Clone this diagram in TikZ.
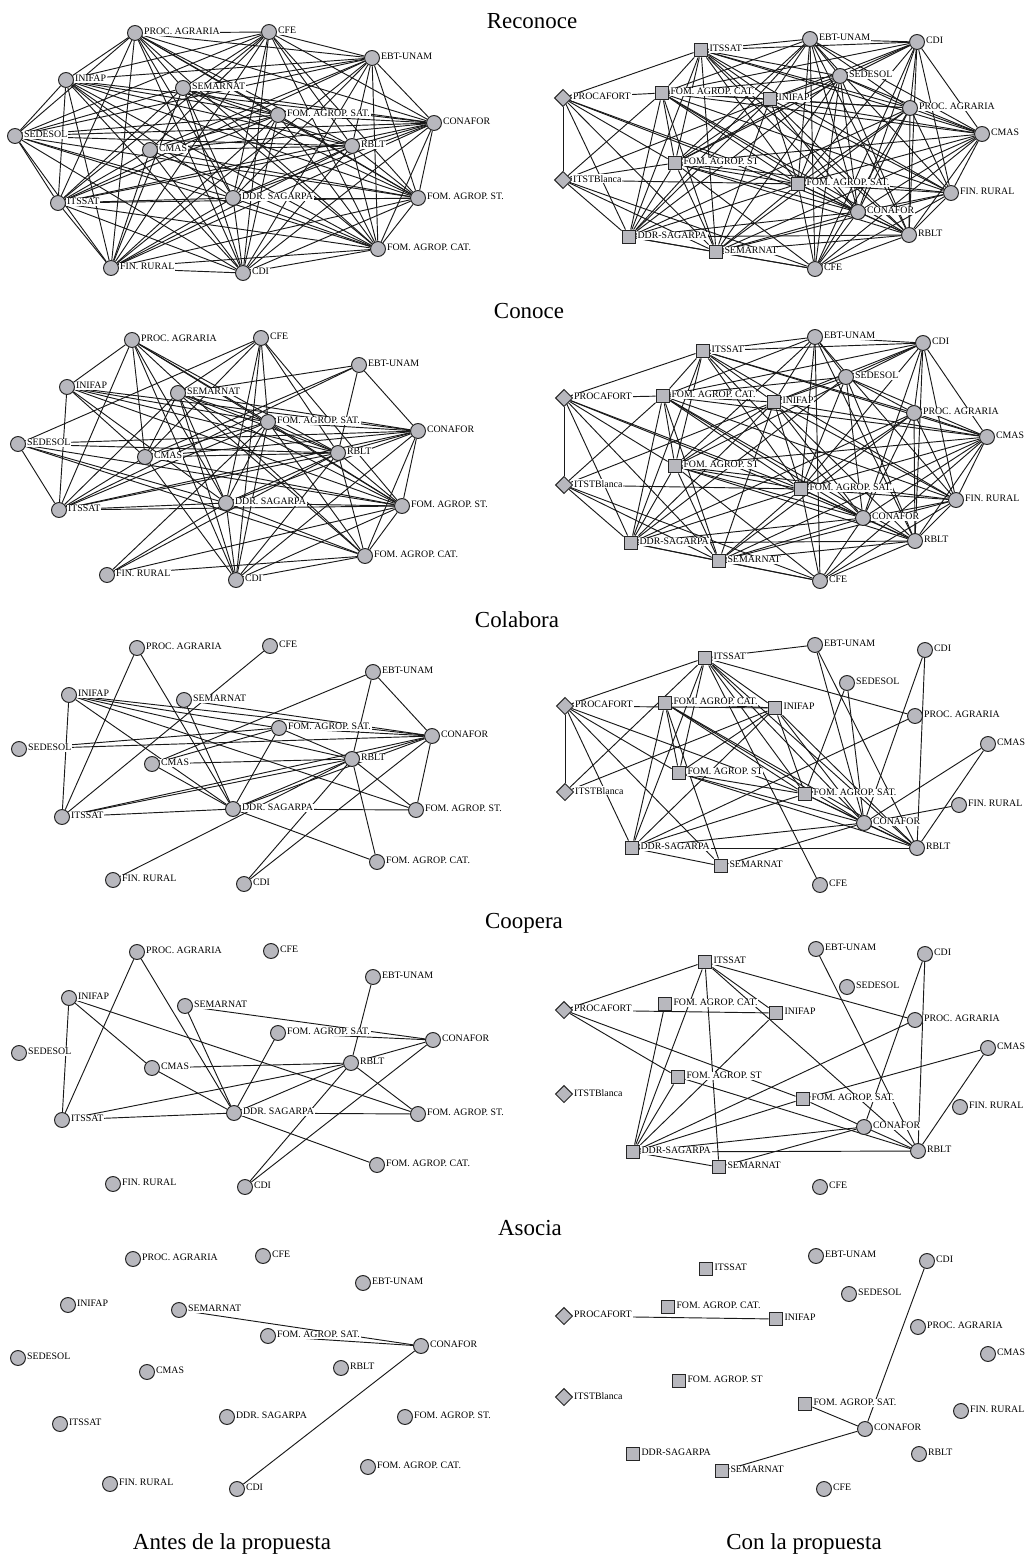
\documentclass[tikz,border=0pt]{standalone}
\usepackage{fontspec}
\setmainfont{Liberation Serif}
\usetikzlibrary{shapes.geometric}
\pgfdeclarelayer{back}
\pgfdeclarelayer{bg}
\pgfsetlayers{back,bg,main}
\definecolor{ngray}{RGB}{184,184,190}
\tikzset{
  edge/.style={draw=black!90,line width=0.7pt},
  nbase/.style={draw=black!85,line width=0.75pt,fill=ngray,inner sep=0pt,label distance=0.3pt},
  cnode/.style={nbase,circle,minimum size=11.2pt},
  snode/.style={nbase,rectangle,minimum size=10.4pt},
  dnode/.style={nbase,diamond,minimum size=13pt},
  lab/.style={font=\fontsize{7.4}{8}\selectfont,fill=white,inner sep=0.6pt,yshift=1pt},
  ttl/.style={font=\fontsize{17.2}{20}\selectfont,anchor=base,inner sep=0pt},
}
\newcommand\cn[4]{\node[cnode,label={[lab]right:#4}] (#1) at (#2,#3) {};}
\newcommand\sn[4]{\node[snode,label={[lab]right:#4}] (#1) at (#2,#3) {};}
\newcommand\dn[4]{\node[dnode,label={[lab]right:#4}] (#1) at (#2,#3) {};}
\newcommand\edgelist[2]{\foreach \u/\v in {#2}{\draw[edge] (#1\u) -- (#1\v);}}
\makeatletter
\newcommand\alledges[3]{%
  \foreach \u [count=\iu] in {#2}{%
    \foreach \v [count=\iv] in {#2}{%
      \ifnum\iu<\iv\relax
        \edef\tmpx{\noexpand\in@{,\u/\v,}{,#3,}}\tmpx
        \ifin@\else
          \edef\tmpx{\noexpand\in@{,\v/\u,}{,#3,}}\tmpx
          \ifin@\else\draw[edge] (#1\u) -- (#1\v);\fi
        \fi
      \fi}}}
\makeatother
\begin{document}
\begin{tikzpicture}[x=0.75pt,y=-0.75pt]
\useasboundingbox (0,0) rectangle (1025,1555);
\begin{pgfonlayer}{back}
\fill[white] (0,0) rectangle (1025,1555);
\end{pgfonlayer}

% titles
\node[ttl] (t1) at (532,29) {Reconoce};
\node[ttl] (t2) at (529,318) {Conoce};
\node[ttl] (t3) at (517,627) {Colabora};
\node[ttl] (t4) at (524,928) {Coopera};
\node[ttl] (t5) at (530,1235) {Asocia};
\node[ttl] (f1) at (232,1549) {Antes de la propuesta};
\node[ttl] (f2) at (804,1549) {Con la propuesta};

% ---------- LEFT 1 Reconoce
\cn{L1PA}{135}{33}{PROC. AGRARIA}
\cn{L1CFE}{269}{32}{CFE}
\cn{L1EBT}{372}{58}{EBT-UNAM}
\cn{L1INI}{66}{80}{INIFAP}
\cn{L1SEM}{183}{88}{SEMARNAT}
\cn{L1FSAT}{278}{115}{FOM. AGROP. SAT.}
\cn{L1CON}{434}{123}{CONAFOR}
\cn{L1SED}{15}{136}{SEDESOL}
\cn{L1CMAS}{150}{150}{CMAS}
\cn{L1RBLT}{352}{146}{RBLT}
\cn{L1ITS}{58}{203}{ITSSAT}
\cn{L1DDR}{233}{198}{DDR. SAGARPA}
\cn{L1FST}{418}{198}{FOM. AGROP. ST.}
\cn{L1FCAT}{378}{249}{FOM. AGROP. CAT.}
\cn{L1FIN}{111}{268}{FIN. RURAL}
\cn{L1CDI}{243}{273}{CDI}
% ---------- LEFT 2 Conoce
\cn{L2PA}{132}{340}{PROC. AGRARIA}
\cn{L2CFE}{261}{338}{CFE}
\cn{L2EBT}{359}{365}{EBT-UNAM}
\cn{L2INI}{67}{387}{INIFAP}
\cn{L2SEM}{178}{393}{SEMARNAT}
\cn{L2FSAT}{268}{422}{FOM. AGROP. SAT.}
\cn{L2CON}{418}{431}{CONAFOR}
\cn{L2SED}{18}{444}{SEDESOL}
\cn{L2CMAS}{145}{457}{CMAS}
\cn{L2RBLT}{338}{453}{RBLT}
\cn{L2ITS}{59}{510}{ITSSAT}
\cn{L2DDR}{226}{503}{DDR. SAGARPA}
\cn{L2FST}{402}{506}{FOM. AGROP. ST.}
\cn{L2FCAT}{365}{556}{FOM. AGROP. CAT.}
\cn{L2FIN}{107}{575}{FIN. RURAL}
\cn{L2CDI}{236}{580}{CDI}
% ---------- LEFT 3 Colabora
\cn{L3PA}{137}{648}{PROC. AGRARIA}
\cn{L3CFE}{270}{646}{CFE}
\cn{L3EBT}{373}{672}{EBT-UNAM}
\cn{L3INI}{69}{695}{INIFAP}
\cn{L3SEM}{184}{700}{SEMARNAT}
\cn{L3FSAT}{279}{728}{FOM. AGROP. SAT.}
\cn{L3CON}{432}{736}{CONAFOR}
\cn{L3SED}{19}{749}{SEDESOL}
\cn{L3CMAS}{152}{764}{CMAS}
\cn{L3RBLT}{352}{759}{RBLT}
\cn{L3ITS}{62}{817}{ITSSAT}
\cn{L3DDR}{233}{809}{DDR. SAGARPA}
\cn{L3FST}{416}{810}{FOM. AGROP. ST.}
\cn{L3FCAT}{377}{862}{FOM. AGROP. CAT.}
\cn{L3FIN}{113}{880}{FIN. RURAL}
\cn{L3CDI}{244}{884}{CDI}
% ---------- LEFT 4 Coopera
\cn{L4PA}{137}{952}{PROC. AGRARIA}
\cn{L4CFE}{271}{951}{CFE}
\cn{L4EBT}{373}{977}{EBT-UNAM}
\cn{L4INI}{69}{998}{INIFAP}
\cn{L4SEM}{185}{1006}{SEMARNAT}
\cn{L4FSAT}{278}{1033}{FOM. AGROP. SAT.}
\cn{L4CON}{433}{1040}{CONAFOR}
\cn{L4SED}{19}{1053}{SEDESOL}
\cn{L4CMAS}{152}{1068}{CMAS}
\cn{L4RBLT}{351}{1063}{RBLT}
\cn{L4ITS}{62}{1120}{ITSSAT}
\cn{L4DDR}{234}{1113}{DDR. SAGARPA}
\cn{L4FST}{418}{1114}{FOM. AGROP. ST.}
\cn{L4FCAT}{377}{1165}{FOM. AGROP. CAT.}
\cn{L4FIN}{113}{1184}{FIN. RURAL}
\cn{L4CDI}{245}{1187}{CDI}
% ---------- LEFT 5 Asocia
\cn{L5PA}{133}{1259}{PROC. AGRARIA}
\cn{L5CFE}{263}{1256}{CFE}
\cn{L5EBT}{363}{1283}{EBT-UNAM}
\cn{L5INI}{68}{1305}{INIFAP}
\cn{L5SEM}{179}{1310}{SEMARNAT}
\cn{L5FSAT}{268}{1336}{FOM. AGROP. SAT.}
\cn{L5CON}{421}{1346}{CONAFOR}
\cn{L5SED}{18}{1358}{SEDESOL}
\cn{L5CMAS}{147}{1372}{CMAS}
\cn{L5RBLT}{341}{1368}{RBLT}
\cn{L5ITS}{60}{1424}{ITSSAT}
\cn{L5DDR}{227}{1417}{DDR. SAGARPA}
\cn{L5FST}{405}{1417}{FOM. AGROP. ST.}
\cn{L5FCAT}{368}{1467}{FOM. AGROP. CAT.}
\cn{L5FIN}{110}{1484}{FIN. RURAL}
\cn{L5CDI}{237}{1489}{CDI}

% ---------- RIGHT 1 Reconoce
\cn{R1EBT}{810}{39}{EBT-UNAM}
\cn{R1CDI}{917}{42}{CDI}
\sn{R1ITS}{701}{50}{ITSSAT}
\cn{R1SED}{840}{76}{SEDESOL}
\dn{R1PF}{563}{98}{PROCAFORT}
\sn{R1FCAT}{662}{93}{FOM. AGROP. CAT.}
\sn{R1INI}{770}{99}{INIFAP}
\cn{R1PA}{910}{108}{PROC. AGRARIA}
\cn{R1CMAS}{982}{134}{CMAS}
\sn{R1FST}{675}{163}{FOM. AGROP. ST}
\dn{R1IB}{563}{180}{ITSTBlanca}
\sn{R1FSAT}{798}{184}{FOM. AGROP. SAT.}
\cn{R1FIN}{951}{193}{FIN. RURAL}
\cn{R1CON}{858}{212}{CONAFOR}
\sn{R1DDR}{629}{237}{DDR-SAGARPA}
\cn{R1RBLT}{909}{235}{RBLT}
\sn{R1SEM}{716}{252}{SEMARNAT}
\cn{R1CFE}{815}{269}{CFE}
% ---------- RIGHT 2 Conoce
\cn{R2EBT}{815}{337}{EBT-UNAM}
\cn{R2CDI}{923}{343}{CDI}
\sn{R2ITS}{703}{351}{ITSSAT}
\cn{R2SED}{846}{377}{SEDESOL}
\dn{R2PF}{564}{398}{PROCAFORT}
\sn{R2FCAT}{663}{396}{FOM. AGROP. CAT.}
\sn{R2INI}{774}{402}{INIFAP}
\cn{R2PA}{914}{413}{PROC. AGRARIA}
\cn{R2CMAS}{987}{437}{CMAS}
\sn{R2FST}{675}{466}{FOM. AGROP. ST}
\dn{R2IB}{564}{485}{ITSTBlanca}
\sn{R2FSAT}{801}{489}{FOM. AGROP. SAT.}
\cn{R2FIN}{956}{500}{FIN. RURAL}
\cn{R2CON}{863}{518}{CONAFOR}
\sn{R2DDR}{631}{543}{DDR-SAGARPA}
\cn{R2RBLT}{915}{541}{RBLT}
\sn{R2SEM}{719}{561}{SEMARNAT}
\cn{R2CFE}{820}{581}{CFE}
% ---------- RIGHT 3 Colabora
\cn{R3EBT}{815}{645}{EBT-UNAM}
\cn{R3CDI}{925}{650}{CDI}
\sn{R3ITS}{705}{658}{ITSSAT}
\cn{R3SED}{847}{683}{SEDESOL}
\dn{R3PF}{565}{706}{PROCAFORT}
\sn{R3FCAT}{665}{703}{FOM. AGROP. CAT.}
\sn{R3INI}{775}{708}{INIFAP}
\cn{R3PA}{915}{716}{PROC. AGRARIA}
\cn{R3CMAS}{988}{744}{CMAS}
\sn{R3FST}{679}{773}{FOM. AGROP. ST}
\dn{R3IB}{565}{792}{ITSTBlanca}
\sn{R3FSAT}{805}{794}{FOM. AGROP. SAT.}
\cn{R3FIN}{959}{805}{FIN. RURAL}
\cn{R3CON}{864}{823}{CONAFOR}
\sn{R3DDR}{632}{848}{DDR-SAGARPA}
\cn{R3RBLT}{917}{848}{RBLT}
\sn{R3SEM}{721}{866}{SEMARNAT}
\cn{R3CFE}{820}{885}{CFE}
% ---------- RIGHT 4 Coopera
\cn{R4EBT}{816}{949}{EBT-UNAM}
\cn{R4CDI}{925}{954}{CDI}
\sn{R4ITS}{705}{962}{ITSSAT}
\cn{R4SED}{847}{987}{SEDESOL}
\dn{R4PF}{564}{1010}{PROCAFORT}
\sn{R4FCAT}{665}{1004}{FOM. AGROP. CAT.}
\sn{R4INI}{776}{1013}{INIFAP}
\cn{R4PA}{915}{1020}{PROC. AGRARIA}
\cn{R4CMAS}{988}{1048}{CMAS}
\sn{R4FST}{678}{1077}{FOM. AGROP. ST}
\dn{R4IB}{564}{1094}{ITSTBlanca}
\sn{R4FSAT}{803}{1099}{FOM. AGROP. SAT.}
\cn{R4FIN}{960}{1107}{FIN. RURAL}
\cn{R4CON}{864}{1127}{CONAFOR}
\sn{R4DDR}{633}{1152}{DDR-SAGARPA}
\cn{R4RBLT}{918}{1151}{RBLT}
\sn{R4SEM}{719}{1167}{SEMARNAT}
\cn{R4CFE}{820}{1187}{CFE}
% ---------- RIGHT 5 Asocia
\cn{R5EBT}{816}{1256}{EBT-UNAM}
\cn{R5CDI}{927}{1261}{CDI}
\sn{R5ITS}{706}{1269}{ITSSAT}
\cn{R5SED}{849}{1294}{SEDESOL}
\dn{R5PF}{564}{1316}{PROCAFORT}
\sn{R5FCAT}{668}{1307}{FOM. AGROP. CAT.}
\sn{R5INI}{776}{1319}{INIFAP}
\cn{R5PA}{918}{1327}{PROC. AGRARIA}
\cn{R5CMAS}{988}{1354}{CMAS}
\sn{R5FST}{679}{1381}{FOM. AGROP. ST}
\dn{R5IB}{564}{1397}{ITSTBlanca}
\sn{R5FSAT}{805}{1404}{FOM. AGROP. SAT.}
\cn{R5FIN}{961}{1411}{FIN. RURAL}
\cn{R5CON}{865}{1429}{CONAFOR}
\sn{R5DDR}{633}{1454}{DDR-SAGARPA}
\cn{R5RBLT}{919}{1454}{RBLT}
\sn{R5SEM}{722}{1471}{SEMARNAT}
\cn{R5CFE}{824}{1489}{CFE}

\begin{pgfonlayer}{bg}
% Left Reconoce: almost complete
\alledges{L1}{PA,CFE,EBT,INI,SEM,FSAT,CON,SED,CMAS,RBLT,ITS,DDR,FST,FCAT,FIN,CDI}{INI/SEM,SEM/CMAS,SED/CMAS,FSAT/RBLT,EBT/FSAT,CFE/FSAT,DDR/CMAS,PA/CMAS}
% Left Conoce
\edgelist{L2}{PA/INI,PA/ITS,PA/CMAS,PA/DDR,PA/CDI,PA/FSAT,PA/RBLT,PA/FST,PA/FCAT,
CFE/SEM,CFE/SED,CFE/DDR,CFE/CDI,CFE/RBLT,CFE/FST,CFE/FSAT,CFE/CMAS,
EBT/SEM,EBT/CON,EBT/RBLT,EBT/CMAS,EBT/ITS,
INI/ITS,INI/CMAS,INI/FSAT,INI/CON,INI/RBLT,INI/FST,INI/DDR,
SEM/ITS,SEM/CMAS,SEM/DDR,SEM/CDI,SEM/FSAT,SEM/RBLT,SEM/FST,SEM/FCAT,SEM/CON,
FSAT/CON,FSAT/ITS,FSAT/CMAS,FSAT/DDR,FSAT/CDI,FSAT/FST,FSAT/FCAT,FSAT/FIN,FSAT/RBLT,
CON/SED,CON/CMAS,CON/RBLT,CON/ITS,CON/DDR,CON/FST,CON/FCAT,CON/CDI,
SED/ITS,SED/RBLT,SED/FST,SED/FCAT,SED/DDR,
CMAS/RBLT,CMAS/ITS,CMAS/FST,CMAS/CDI,
RBLT/ITS,RBLT/DDR,RBLT/FST,RBLT/FCAT,RBLT/FIN,RBLT/CDI,
ITS/DDR,ITS/FST,DDR/FST,DDR/FCAT,DDR/CDI,DDR/FIN,
FST/FCAT,FST/CDI,FST/FIN,FCAT/FIN,FCAT/CDI}
% Left Colabora
\edgelist{L3}{PA/ITS,PA/DDR,CFE/ITS,INI/ITS,INI/DDR,INI/FSAT,INI/CON,INI/RBLT,INI/FST,
SEM/DDR,SEM/CON,EBT/CMAS,EBT/RBLT,EBT/CON,SED/FSAT,SED/CON,CMAS/RBLT,CMAS/DDR,CMAS/FSAT,
ITS/RBLT,ITS/CON,ITS/DDR,DDR/FSAT,DDR/RBLT,DDR/CON,DDR/FST,DDR/FCAT,FIN/RBLT,
CDI/RBLT,CDI/CON,RBLT/CON,RBLT/FST,RBLT/FCAT,CON/FST,FSAT/RBLT,FSAT/CON}
% Left Coopera
\edgelist{L4}{PA/ITS,PA/DDR,INI/ITS,INI/CMAS,INI/FST,SEM/DDR,SEM/CON,FSAT/DDR,FSAT/CON,
EBT/RBLT,CMAS/RBLT,CMAS/DDR,ITS/RBLT,ITS/DDR,DDR/RBLT,DDR/FST,DDR/FCAT,RBLT/CON,
RBLT/FST,CDI/RBLT,CDI/CON}
% Left Asocia
\edgelist{L5}{SEM/CON,FSAT/CON,CDI/CON}

% Right Reconoce
\alledges{R1}{ITS,FCAT,INI,FST,FSAT,DDR,SEM,EBT,CDI,SED,PA,CMAS,FIN,CON,RBLT,CFE}{ITS/CFE,FCAT/CFE,EBT/SEM,CDI/DDR,CDI/SEM,PA/FST,CMAS/DDR,FIN/DDR,SED/FIN,CFE/INI}
\edgelist{R1}{PF/IB,PF/ITS,PF/FCAT,PF/FST,PF/FSAT,PF/DDR,PF/SEM,PF/CON,
IB/FCAT,IB/INI,IB/FST,IB/FSAT,IB/DDR,IB/SEM,IB/CFE}
% Right Conoce
\alledges{R2}{ITS,FCAT,INI,FST,FSAT,DDR,SEM,EBT,CDI,SED,PA,CMAS,FIN,CON,RBLT,CFE}{ITS/CFE,FCAT/CFE,EBT/SEM,CDI/DDR,CDI/SEM,PA/FST,CMAS/DDR,FIN/DDR,SED/FIN,CFE/INI,EBT/PA,EBT/CMAS,SED/ITS,INI/PA,FCAT/PA,FST/PA,DDR/EBT,RBLT/ITS,CON/EBT,SEM/SED,CFE/SED,CFE/PA,CFE/CDI,FST/SED,ITS/SEM}
\edgelist{R2}{PF/IB,PF/ITS,PF/FCAT,PF/FST,PF/FSAT,PF/DDR,PF/SEM,PF/CON,
IB/FCAT,IB/INI,IB/FSAT,IB/DDR,IB/SEM,IB/CFE}
% Right Colabora
\edgelist{R3}{ITS/EBT,ITS/PF,ITS/IB,ITS/DDR,ITS/FST,ITS/FSAT,ITS/CON,ITS/RBLT,ITS/PA,ITS/INI,ITS/CFE,
PF/IB,PF/INI,PF/FST,PF/FSAT,PF/DDR,PF/SEM,IB/INI,
FCAT/INI,FCAT/DDR,FCAT/FST,FCAT/FSAT,FCAT/CON,FCAT/RBLT,FCAT/SEM,
INI/DDR,INI/FST,INI/FSAT,INI/CON,INI/RBLT,FST/FSAT,FST/CON,FST/RBLT,
FSAT/DDR,FSAT/SED,FSAT/CON,FSAT/RBLT,EBT/CON,EBT/RBLT,SED/CON,CDI/CON,CDI/RBLT,
PA/DDR,CMAS/CON,CMAS/RBLT,FIN/CON,CON/DDR,CON/SEM,CON/RBLT,DDR/RBLT,DDR/SEM}
% Right Coopera
\edgelist{R4}{ITS/PF,ITS/DDR,ITS/SEM,ITS/INI,ITS/PA,ITS/RBLT,PF/INI,PF/FST,PF/FSAT,
FCAT/DDR,INI/DDR,FST/DDR,FST/RBLT,FSAT/DDR,FSAT/CON,FSAT/CMAS,PA/DDR,CDI/CON,CDI/RBLT,
EBT/RBLT,CMAS/RBLT,CON/DDR,CON/SEM,DDR/RBLT,DDR/SEM,CON/RBLT}
% Right Asocia
\edgelist{R5}{PF/INI,FSAT/CON,SEM/CON,CDI/CON}
\end{pgfonlayer}
\end{tikzpicture}
\end{document}
